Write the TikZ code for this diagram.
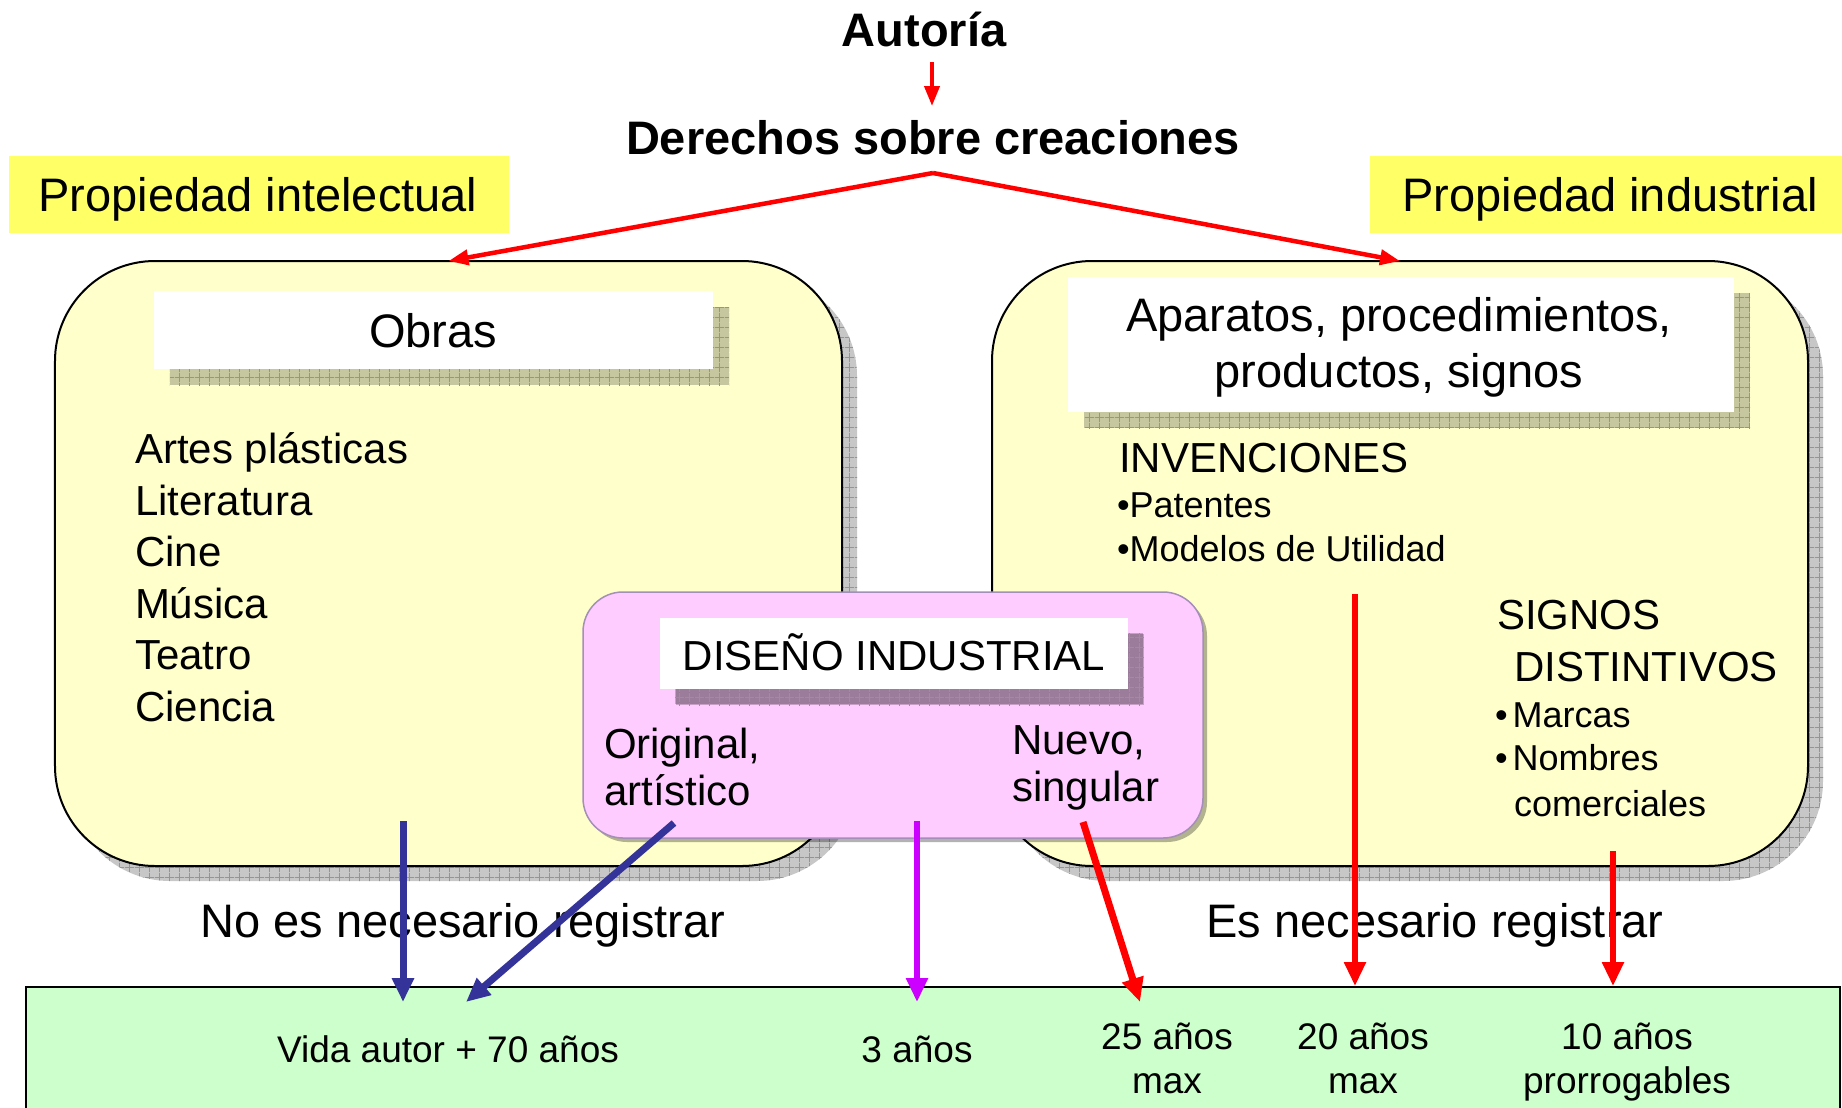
\documentclass[tikz,border=0pt]{standalone}
\usepackage{fontspec}
\setmainfont{Liberation Sans}
\usetikzlibrary{arrows.meta, shadows, patterns.meta}

\definecolor{labyellow}{HTML}{FFFF66}
\definecolor{boxyellow}{HTML}{FFFFCC}
\definecolor{boxpink}{HTML}{FFCCFF}
\definecolor{pinkline}{HTML}{A38FB8}
\definecolor{boxgreen}{HTML}{CCFFCC}
\definecolor{linkblue}{HTML}{333399}
\definecolor{linkpurple}{HTML}{CC00FF}
\definecolor{linkred}{HTML}{FF0000}

\tikzset{
    gridshadow/.style={
        general shadow={shadow xshift=#1, shadow yshift=-#1, fill=black, fill opacity=.22},
        general shadow={shadow xshift=#1, shadow yshift=-#1,
            pattern={Hatch[distance=10bp, angle=0, line width=.8bp]}, pattern color=black!42}
    },
    gridshadow/.default={15bp},
    bigbox/.style={draw=black, line width=2bp, fill=boxyellow, rounded corners=100bp, gridshadow},
    whitebox/.style={fill=white, gridshadow=16bp},
    labbox/.style={fill=labyellow},
    pinkbox/.style={draw=pinkline, line width=1.5bp, fill=boxpink, rounded corners=40bp,
        general shadow={shadow xshift=4bp, shadow yshift=-4bp, fill=black, fill opacity=.3}},
    greenbox/.style={draw=black, line width=2bp, fill=boxgreen},
    txtbig/.style={font=\fontsize{47bp}{56bp}\selectfont},
    txthead/.style={font=\fontsize{47bp}{56bp}\selectfont\bfseries},
    txtmid/.style={font=\fontsize{42bp}{50bp}\selectfont},
    txtsmall/.style={font=\fontsize{36bp}{43bp}\selectfont},
    txtlow/.style={font=\fontsize{37bp}{44bp}\selectfont},
    toplink/.style={draw=linkred, line width=#1, -{Triangle[length=20bp, width=15bp]}},
    toplink/.default={4.5bp},
    lowlink/.style args={#1 #2}{draw=#1, line width=#2, -{Triangle[length=24bp, width=21bp]}},
}

\begin{document}
\begin{tikzpicture}[x=1bp, y=-1bp, every node/.style={inner sep=0pt, outer sep=0pt}]
    \useasboundingbox (0,0) rectangle (1842,1107);

    % titulo
    \node[txthead, anchor=base] (autoria) at (924,46) {Autoría};
    \node[txthead, anchor=base] (derechos) at (933,154) {Derechos sobre creaciones};
    \coordinate (aut-s) at (932,62);
    \coordinate (der-n) at (932,106);
    \coordinate (der-s) at (933,173);

    \node[labbox, minimum width=500bp, minimum height=77bp] (pintel) at (259,194.5) {};
    \node[txtbig, anchor=base] (pintel-t) at (258,211) {Propiedad intelectual};
    \node[labbox, minimum width=472bp, minimum height=77bp] (pindus) at (1606,194.5) {};
    \node[txtbig, anchor=base] (pindus-t) at (1610,211) {Propiedad industrial};

    % cajas grandes
    \node[bigbox, minimum width=787bp, minimum height=605bp] (intel) at (448.5,563.5) {};
    \node[bigbox, minimum width=816bp, minimum height=605bp] (indus) at (1400,563.5) {};

    \node[whitebox, minimum width=559bp, minimum height=78bp] (obras) at (433.5,330) {};
    \node[txtbig, anchor=base] (obras-t) at (433,347) {Obras};
    \foreach \obra [count=\i from 0] in {Artes plásticas, Literatura, Cine, Música, Teatro, Ciencia}
        \node[txtmid, anchor=base west] (obra\i) at (135, {463.5+51.5*\i}) {\obra};

    \node[whitebox, minimum width=666bp, minimum height=135bp] (aparatos) at (1401,344.5) {};
    \node[txtbig, anchor=base] (aparatos-t1) at (1399,331) {Aparatos, procedimientos,};
    \node[txtbig, anchor=base] (aparatos-t2) at (1399,387) {productos, signos};

    \node[txtmid, anchor=base west] (invenc) at (1119,472) {INVENCIONES};
    \node[txtsmall, anchor=base west] (patentes) at (1117,517) {•Patentes};
    \node[txtsmall, anchor=base west] (modelos) at (1117,561) {•Modelos de Utilidad};

    \node[txtmid, anchor=base west] (signos) at (1497,629) {SIGNOS};
    \node[txtmid, anchor=base west] (distint) at (1514,681) {DISTINTIVOS};
    \node[txtsmall, anchor=base west] (marcas) at (1495,727) {•\kern5bp Marcas};
    \node[txtsmall, anchor=base west] (nombres) at (1495,770) {•\kern5bp Nombres};
    \node[txtsmall, anchor=base west] (comerc) at (1514,816) {comerciales};

    % diseno industrial
    \node[pinkbox, minimum width=620bp, minimum height=246bp] (diseno) at (893,715) {};
    \node[whitebox, gridshadow=15bp, minimum width=468bp, minimum height=71bp] (diseno-h) at (894,653.5) {};
    \node[txtmid, anchor=base] (diseno-t) at (894,670) {DISEÑO INDUSTRIAL};
    \node[txtmid, anchor=base west] (orig1) at (604,758) {Original,};
    \node[txtmid, anchor=base west] (orig2) at (604,805.5) {artístico};
    \node[txtmid, anchor=base west] (nuevo1) at (1012,754) {Nuevo,};
    \node[txtmid, anchor=base west] (nuevo2) at (1012,801) {singular};

    \node[txtbig, anchor=base] (noreg) at (463,937) {No es necesario registrar};
    \node[txtbig, anchor=base] (sireg) at (1435,937) {Es necesario registrar};

    % plazos
    \node[greenbox, minimum width=1814bp, minimum height=140bp] (plazos) at (933,1057) {};
    \node[txtlow, anchor=base] (vida) at (448,1062) {Vida autor + 70 años};
    \node[txtlow, anchor=base] (tres) at (917,1062) {3 años};
    \node[txtlow, anchor=base] (veinticinco) at (1167,1049) {25 años};
    \node[txtlow, anchor=base] (veinticinco-m) at (1167,1093) {max};
    \node[txtlow, anchor=base] (veinte) at (1363,1049) {20 años};
    \node[txtlow, anchor=base] (veinte-m) at (1363,1093) {max};
    \node[txtlow, anchor=base] (diez) at (1627,1049) {10 años};
    \node[txtlow, anchor=base] (diez-m) at (1627,1093) {prorrogables};

    \coordinate (obras-out) at (403,821);
    \coordinate (orig-out) at (674,823);
    \coordinate (diseno-out) at (917,821);
    \coordinate (nuevo-out) at (1083,822);
    \coordinate (invenc-out) at (1355,594);
    \coordinate (signos-out) at (1613,851);
    \coordinate (vida-a) at (403,1002);
    \coordinate (vida-b) at (466,1002);
    \coordinate (tres-a) at (917,1002);
    \coordinate (veinticinco-a) at (1140,1002);
    \coordinate (veinte-a) at (1355,986);
    \coordinate (diez-a) at (1613,986);

    % flechas
    \draw[toplink=4bp] (aut-s) -- (der-n);
    \draw[toplink] (der-s) -- (intel.north);
    \draw[toplink] (der-s) -- (indus.north);
    \draw[lowlink={linkblue 7bp}] (obras-out) -- (vida-a);
    \draw[lowlink={linkblue 7bp}] (orig-out) -- (vida-b);
    \draw[lowlink={linkpurple 5.5bp}] (diseno-out) -- (tres-a);
    \draw[lowlink={linkred 7bp}] (nuevo-out) -- (veinticinco-a);
    \draw[lowlink={linkred 5.5bp}] (invenc-out) -- (veinte-a);
    \draw[lowlink={linkred 5.5bp}] (signos-out) -- (diez-a);
\end{tikzpicture}
\end{document}
